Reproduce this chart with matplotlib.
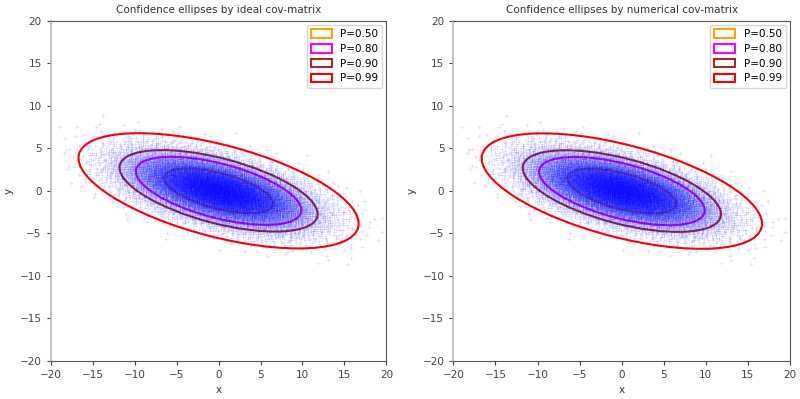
import numpy as np
import matplotlib
matplotlib.use("Agg")
import matplotlib.pyplot as plt
from matplotlib.patches import Ellipse

# probability levels and ellipse colours
probs = [0.50, 0.80, 0.90, 0.99]
colors = ["orange", "magenta", "brown", "red"]

# covariance matrices
mean_ideal = [0.0, 0.0]
cov_ideal = [[30.25, -7.0], [-7.0, 5.0]]
mean_num = [0.02, -0.03]
cov_num = [[30.1, -6.95], [-6.95, 5.02]]

n_points = 15000
titles = ["Confidence ellipses by ideal cov-matrix",
          "Confidence ellipses by numerical cov-matrix"]


def halton(n, base, leap):
    # deterministic leaped halton sequence
    out = np.zeros(n)
    for i in range(n):
        f, r, k = 1.0, 0.0, (i + 1) * leap
        while k > 0:
            f /= base
            r += f * (k % base)
            k //= base
        out[i] = r
    return out


def cloud(mean, cov, n):
    u1 = halton(n, 2, 409)
    u2 = halton(n, 3, 409)
    u1 = np.clip(u1, 1e-9, 1 - 1e-9)
    rad = np.sqrt(-2 * np.log(u1))
    z = np.vstack([rad * np.cos(2 * np.pi * u2), rad * np.sin(2 * np.pi * u2)])
    L = np.linalg.cholesky(np.array(cov))
    pts = L @ z
    return pts[0] + mean[0], pts[1] + mean[1]


def add_ellipse(ax, mean, cov, p, color):
    vals, vecs = np.linalg.eigh(np.array(cov))
    r = np.sqrt(-2 * np.log(1 - p))  # chi2 quantile, 2 dof
    ang = np.degrees(np.arctan2(vecs[1, 1], vecs[0, 1]))
    e = Ellipse(mean, 2 * r * np.sqrt(vals[1]), 2 * r * np.sqrt(vals[0]), angle=ang,
                fill=False, edgecolor=color, lw=1.5, label="P=%.2f" % p)
    ax.add_patch(e)


fig = plt.figure(figsize=(8, 3.99), dpi=100)
ax1 = fig.add_axes([0.0634, 0.0962, 0.4196, 0.8511])
ax2 = fig.add_axes([0.5667, 0.0962, 0.4208, 0.8511])

xs, ys = cloud(mean_ideal, cov_ideal, n_points)

for ax, mean, cov, title in [(ax1, mean_ideal, cov_ideal, titles[0]),
                             (ax2, mean_num, cov_num, titles[1])]:
    ax.plot(xs, ys, "+", color="blue", ms=2.5, mew=0.5, alpha=0.14)
    for p, c in zip(probs, colors):
        add_ellipse(ax, mean, cov, p, c)
    ax.set_xlim(-20, 20)
    ax.set_ylim(-20, 20)
    ax.set_xticks(range(-20, 21, 5))
    ax.set_yticks(range(-20, 21, 5))
    ax.set_title(title, fontsize=7.5, color="#333333")
    ax.set_xlabel("x", fontsize=7.5, color="#333333")
    ax.set_ylabel("y", fontsize=7.5, color="#333333")
    ax.tick_params(labelsize=7.5, colors="#444444", length=3, width=0.8)
    for s in ["top", "right", "bottom"]:
        ax.spines[s].set_color("#555555")
        ax.spines[s].set_linewidth(0.8)
    ax.spines["left"].set_color("#b8b8b8")
    ax.spines["left"].set_linewidth(1.2)
    ax.legend(loc="upper right", fontsize=7.5, handlelength=2.0, handleheight=0.9,
              borderaxespad=0.4, labelspacing=0.45)

fig.savefig("out.png", dpi=100)
